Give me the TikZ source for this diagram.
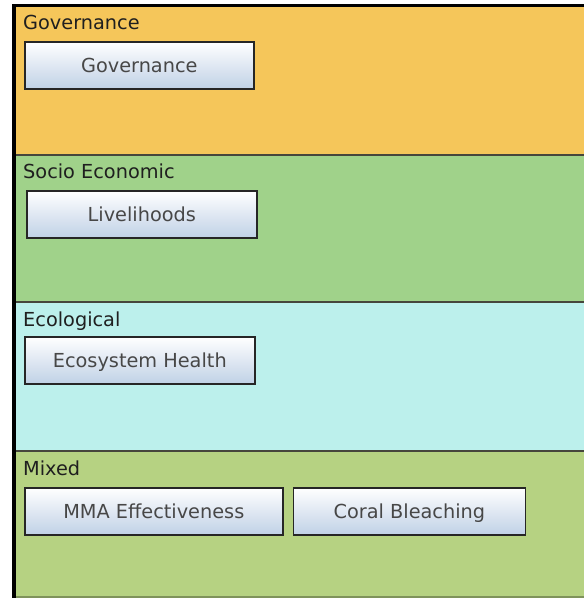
\documentclass[tikz,border=0pt]{standalone}
\usepackage{fontspec}
\setmainfont{DejaVu Sans}
\usetikzlibrary{positioning}

\definecolor{govColor}{RGB}{245,198,90}
\definecolor{socColor}{RGB}{160,210,138}
\definecolor{ecoColor}{RGB}{188,240,236}
\definecolor{mixColor}{RGB}{182,210,130}
\definecolor{btnBlue}{RGB}{192,209,230}
\definecolor{sepGray}{RGB}{70,70,60}

\begin{document}
\begin{tikzpicture}[x=1pt, y=-1pt, node distance=9pt,
    laneLabel/.style={anchor=base west, inner sep=0pt, text=black!88,
        font=\fontsize{19.3}{22}\selectfont},
    item/.style={draw=black!85, line width=1.6pt, top color=white, bottom color=btnBlue,
        minimum height=47pt, inner sep=0pt, anchor=north west, text=black!72,
        text height=14pt, text depth=0pt,
        font=\fontsize{19.3}{22}\selectfont},
    sep/.style={draw=sepGray, line width=1.4pt}]
    \useasboundingbox[fill=white] (0,0) rectangle (584,598);

    % lanes
    \fill[govColor] (16,7) rectangle (584,155);
    \fill[socColor] (16,155) rectangle (584,302);
    \fill[ecoColor] (16,302) rectangle (584,451);
    \fill[mixColor] (16,451) rectangle (584,597);
    \draw[sep] (16,155) -- (584,155);
    \draw[sep] (16,302) -- (584,302);
    \draw[sep] (16,451) -- (584,451);
    \draw[draw=mixColor!70!black, line width=1.4pt] (16,597) -- (584,597);

    % frame
    \fill[black] (12,4) rectangle (16,598);
    \fill[black] (12,4) rectangle (584,7);

    % lane titles
    \node[laneLabel] (govLane) at (23,29) {Governance};
    \node[laneLabel] (socLane) at (23,178) {Socio Economic};
    \node[laneLabel] (ecoLane) at (23,326) {Ecological};
    \node[laneLabel] (mixLane) at (23,475) {Mixed};

    % items
    \node[item, minimum width=229pt] (governance) at (24,41) {Governance};
    \node[item, minimum width=230pt] (livelihoods) at (26,190) {Livelihoods};
    \node[item, minimum width=230pt] (ecoHealth) at (24,336) {Ecosystem Health};
    \node[item, minimum width=258pt] (mmaEff) at (24,487) {MMA Effectiveness};
    \node[item, minimum width=232pt, right = 9pt of mmaEff] (coral) {Coral Bleaching};
\end{tikzpicture}
\end{document}
